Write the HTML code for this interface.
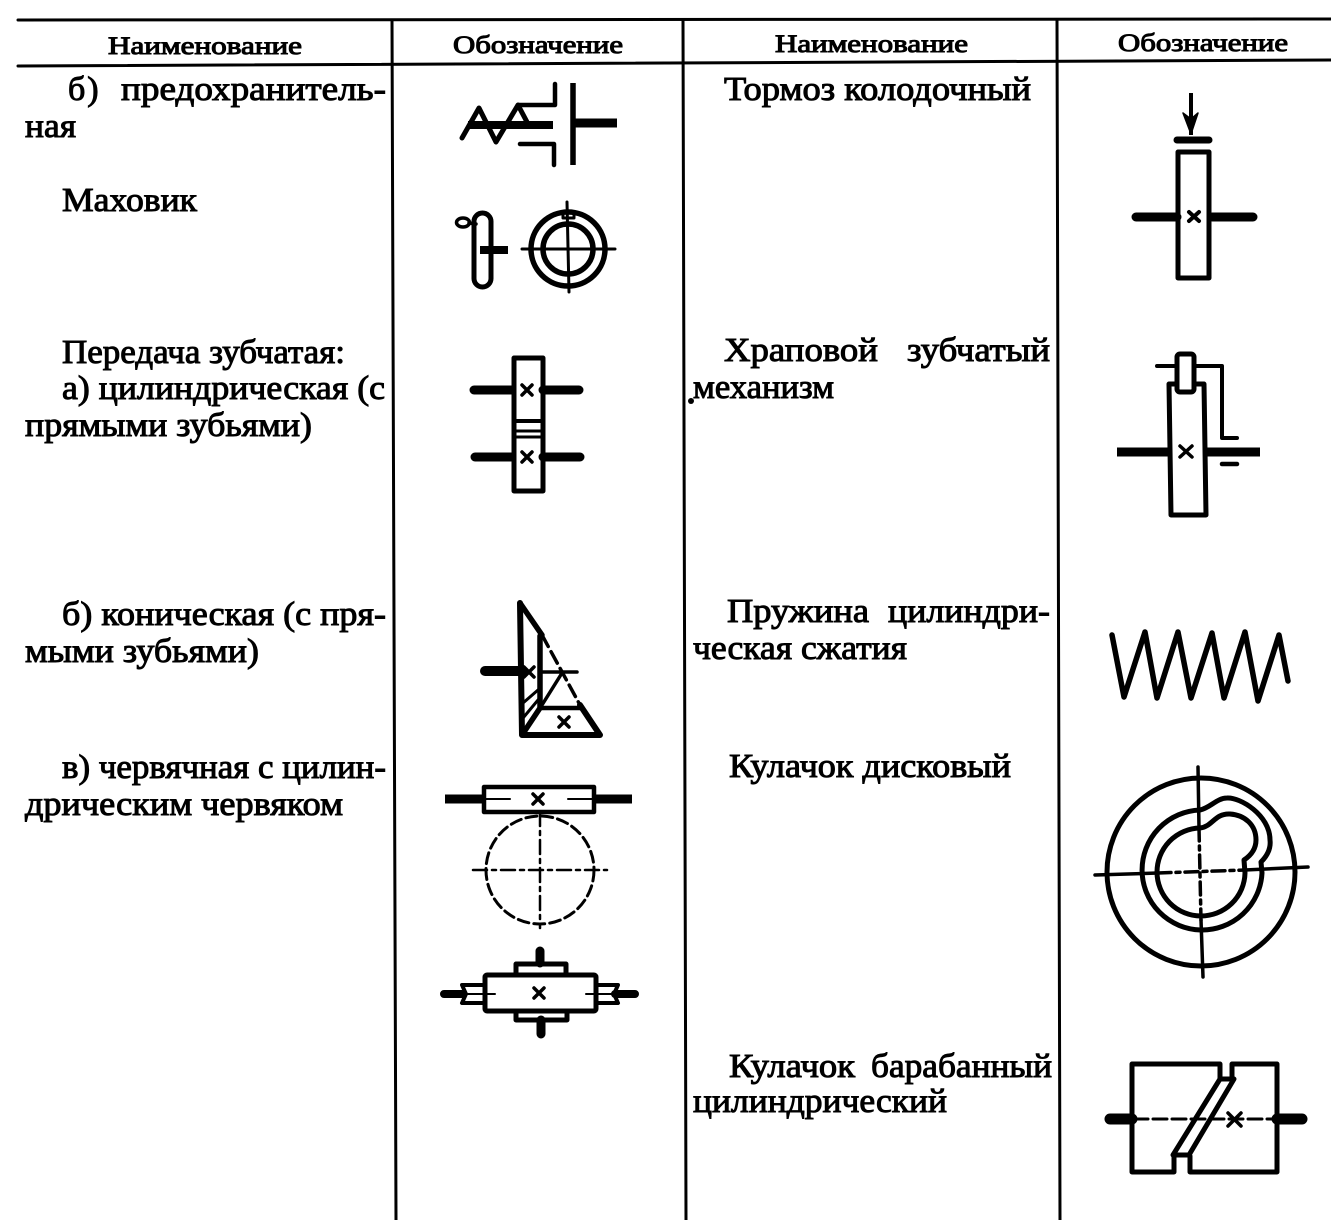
<!DOCTYPE html>
<html><head><meta charset="utf-8"><style>
html,body{margin:0;padding:0;background:#fff}
svg{display:block}
text{font-family:"Liberation Serif","Noto Serif CJK SC",serif;fill:#000;stroke:#000;stroke-width:1px}
.t{font-size:34px}
.h{font-size:25px;stroke-width:1px}
.l{fill:none;stroke:#000;stroke-linecap:round;stroke-linejoin:round}
</style></head><body>
<svg width="1331" height="1220" viewBox="0 0 1331 1220" xmlns="http://www.w3.org/2000/svg">
<g class="l" stroke-width="3" stroke-linecap="butt">
<path d="M18 20L1331 19"/><path d="M18 66L1331 60" />
<path d="M392 20L396 1220M683 20L686 1220M1057 20L1060 1220"/>
</g>
<g>
<text class="h" x="108" y="54" textLength="194" lengthAdjust="spacingAndGlyphs">Наименование</text>
<text class="h" x="453" y="53" textLength="170" lengthAdjust="spacingAndGlyphs">Обозначение</text>
<text class="h" x="775" y="52" textLength="193" lengthAdjust="spacingAndGlyphs">Наименование</text>
<text class="h" x="1118" y="51" textLength="170" lengthAdjust="spacingAndGlyphs">Обозначение</text>

<text class="t" x="68" y="100" letter-spacing="2">б)</text>
<text class="t" x="121" y="100" textLength="265" lengthAdjust="spacingAndGlyphs">предохранитель-</text>
<text class="t" x="25" y="137" textLength="51" lengthAdjust="spacingAndGlyphs">ная</text>
<text class="t" x="62" y="211" textLength="135" lengthAdjust="spacingAndGlyphs">Маховик</text>
<text class="t" x="62" y="363" textLength="283" lengthAdjust="spacingAndGlyphs">Передача зубчатая:</text>
<text class="t" x="62" y="399" textLength="323" lengthAdjust="spacingAndGlyphs">а) цилиндрическая (с</text>
<text class="t" x="25" y="436" textLength="287" lengthAdjust="spacingAndGlyphs">прямыми зубьями)</text>
<text class="t" x="62" y="625" textLength="324" lengthAdjust="spacingAndGlyphs">б) коническая (с пря-</text>
<text class="t" x="25" y="662" textLength="234" lengthAdjust="spacingAndGlyphs">мыми зубьями)</text>
<text class="t" x="62" y="778" textLength="324" lengthAdjust="spacingAndGlyphs">в) червячная с цилин-</text>
<text class="t" x="25" y="815" textLength="318" lengthAdjust="spacingAndGlyphs">дрическим червяком</text>

<text class="t" x="724" y="100" textLength="307" lengthAdjust="spacingAndGlyphs">Тормоз колодочный</text>
<text class="t" x="724" y="361" textLength="154" lengthAdjust="spacingAndGlyphs">Храповой</text>
<text class="t" x="907" y="361" textLength="143" lengthAdjust="spacingAndGlyphs">зубчатый</text>
<text class="t" x="693" y="398" textLength="141" lengthAdjust="spacingAndGlyphs">механизм</text>
<text class="t" x="727" y="622" textLength="142" lengthAdjust="spacingAndGlyphs">Пружина</text>
<text class="t" x="888" y="622" textLength="162" lengthAdjust="spacingAndGlyphs">цилиндри-</text>
<text class="t" x="693" y="659" textLength="214" lengthAdjust="spacingAndGlyphs">ческая сжатия</text>
<text class="t" x="729" y="777" textLength="282" lengthAdjust="spacingAndGlyphs">Кулачок дисковый</text>
<text class="t" x="729" y="1077" textLength="126" lengthAdjust="spacingAndGlyphs">Кулачок</text>
<text class="t" x="871" y="1077" textLength="181" lengthAdjust="spacingAndGlyphs">барабанный</text>
<text class="t" x="693" y="1112" textLength="254" lengthAdjust="spacingAndGlyphs">цилиндрический</text>
</g>
<circle cx="691" cy="401" r="3" fill="#000"/>

<!-- safety clutch -->
<g class="l" stroke-width="5">
<path d="M462 138L479 108L496 142L518 105L527 122"/>
<path d="M518 105H555V84M520 144H554V165" stroke-width="4.5"/>
<path d="M468 125H553" stroke-width="8" stroke-linecap="butt"/>
<path d="M573 83V165" stroke-width="5.5" stroke-linecap="butt"/>
<path d="M573 123H617" stroke-width="9" stroke-linecap="butt"/>
</g>
<!-- flywheel -->
<g class="l" stroke-width="5">
<rect x="474" y="213" width="17" height="74" rx="8.5"/>
<ellipse cx="463" cy="222.5" rx="6.5" ry="4.5" stroke-width="3.5"/>
<path d="M469 223L476 224" stroke-width="3.5"/>
<path d="M480 250H508" stroke-width="8" stroke-linecap="butt"/>
<circle cx="568" cy="249" r="37" stroke-width="5.5"/>
<circle cx="568" cy="249" r="25" stroke-width="5.5"/>
<path d="M522 249H615M567 202L569 292" stroke-width="3"/>
<rect x="563" y="212" width="11" height="6" stroke-width="3"/>
</g>
<!-- cylindrical gears -->
<g class="l" stroke-width="5">
<rect x="514" y="358" width="29" height="133" stroke-linecap="butt"/>
<path d="M514 421H542" stroke-width="4"/>
<path d="M514 431H542M514 437H542" stroke-width="3"/>
<path d="M474 390H512M543 390H579M475 457H512M543 457H580" stroke-width="9"/>
<path d="M522 385L532 395M532 385L522 395M522 452L532 462M532 452L522 462" stroke-width="3.5"/>
</g>
<!-- bevel gears -->
<g class="l" stroke-width="5.5">
<path d="M520 603L522 735H600L580 705" stroke-width="6"/>
<path d="M520 603L542 635"/>
<path d="M542 635L580 705" stroke-width="3.5" stroke-dasharray="13 6"/>
<path d="M540 636V708L522 735" stroke-width="5.5"/>
<path d="M542 708H582" stroke-width="4.5"/>
<path d="M542 705L562 673M542 672H577" stroke-width="3.5"/>
<path d="M523 703L538 690M523 718L538 700" stroke-width="3"/>
<path d="M485 671H523" stroke-width="10"/>
<path d="M524 667L534 677M534 667L524 677M559 717L569 727M569 717L559 727" stroke-width="3.5"/>
</g>
<!-- worm gear -->
<g class="l" stroke-width="4.5">
<rect x="484" y="787" width="110" height="25"/>
<path d="M445 799H483M594 799H632" stroke-width="9" stroke-linecap="butt"/>
<path d="M533 794L543 804M543 794L533 804" stroke-width="3.5"/>
<path d="M484 799H510M568 799H594" stroke-width="2"/>
<circle cx="540" cy="870" r="54" stroke-width="3" stroke-dasharray="11 5"/>
<path d="M473 870H607M540 812V928" stroke-width="2.5" stroke-dasharray="14 5 4 5"/>
</g>
<!-- worm gear 2 -->
<g class="l" stroke-width="5">
<rect x="485" y="975" width="111" height="36" rx="2"/>
<path d="M516 974V964H566V974M516 1011V1020H567V1011"/>
<path d="M540 951V963M541 1020V1034" stroke-width="9"/>
<path d="M444 994H462M615 994H635" stroke-width="8"/>
<path d="M485 985H462L466 994L462 1003H485M596 985H618L614 994L618 1003H596" stroke-width="4"/>
<path d="M466 994H495M586 994H615" stroke-width="2"/>
<path d="M534 988L544 998M544 988L534 998" stroke-width="3.5"/>
</g>
<!-- brake -->
<g class="l" stroke-width="5">
<rect x="1178" y="152" width="31" height="126"/>
<path d="M1136 217H1177M1212 217H1253" stroke-width="9"/>
<path d="M1177 140H1209" stroke-width="7"/>
<path d="M1191 93V135" stroke-width="4" stroke-linecap="butt"/>
<path d="M1183 113L1191 119L1198 113L1191 134Z" fill="#000" stroke-width="1.5"/>
<path d="M1189 212L1199 221M1199 212L1189 221" stroke-width="4"/>
</g>
<!-- ratchet -->
<g class="l" stroke-width="5">
<path d="M1177 384H1169L1171 515H1206L1204 384H1194"/>
<rect x="1177" y="354" width="17" height="38" rx="3"/>
<path d="M1157 366H1177M1194 366H1222V438H1237" stroke-width="4"/>
<path d="M1117 452H1168M1206 452H1260" stroke-width="9" stroke-linecap="butt"/>
<path d="M1222 464H1237" stroke-width="4.5"/>
<path d="M1180 446L1192 457M1192 446L1180 457" stroke-width="3.5"/>
</g>
<!-- spring -->
<path class="l" stroke-width="5.5" d="M1112 635L1124 697L1145 632L1157 698L1178 632L1191 698L1212 633L1224 698L1245 632L1258 701L1279 635L1288 681"/>
<!-- cam -->
<g class="l" stroke-width="5">
<circle cx="1201" cy="872" r="94"/>
<path d="M1200 828A44 44 0 1 0 1245 873L1244 860C1250 856 1256 850 1256 840C1256 825 1245 815 1230 814C1215 813 1212 827 1200 828Z"/>
<path d="M1200 810A60 60 0 1 0 1262 873L1261 862C1268 855 1271 848 1270 840C1270 815 1240 797 1227 798C1217 798 1210 808 1200 810Z"/>
<path d="M1095 875L1158 873M1245 870L1308 867" stroke-width="3.5"/>
<path d="M1158 873L1245 870" stroke-width="3.5" stroke-dasharray="13 5 4 5"/>
<path d="M1198 767L1199 828M1201 920L1203 977" stroke-width="3.5"/>
<path d="M1199 828L1201 920" stroke-width="3.5" stroke-dasharray="13 5 4 5"/>
</g>
<!-- drum cam -->
<g class="l" stroke-width="5">
<path d="M1220 1078V1064H1132V1172H1174V1155"/>
<path d="M1232 1078V1064H1277V1172H1190V1156"/>
<path d="M1220 1079H1234L1189 1155H1173Z"/>
<path d="M1110 1119H1132M1277 1119H1302" stroke-width="11" stroke-linecap="round"/>
<path d="M1134 1119H1277" stroke-width="3" stroke-dasharray="14 5"/>
<path d="M1228 1113L1241 1126M1241 1113L1228 1126" stroke-width="3.5"/>
</g>
</svg>
</body></html>
